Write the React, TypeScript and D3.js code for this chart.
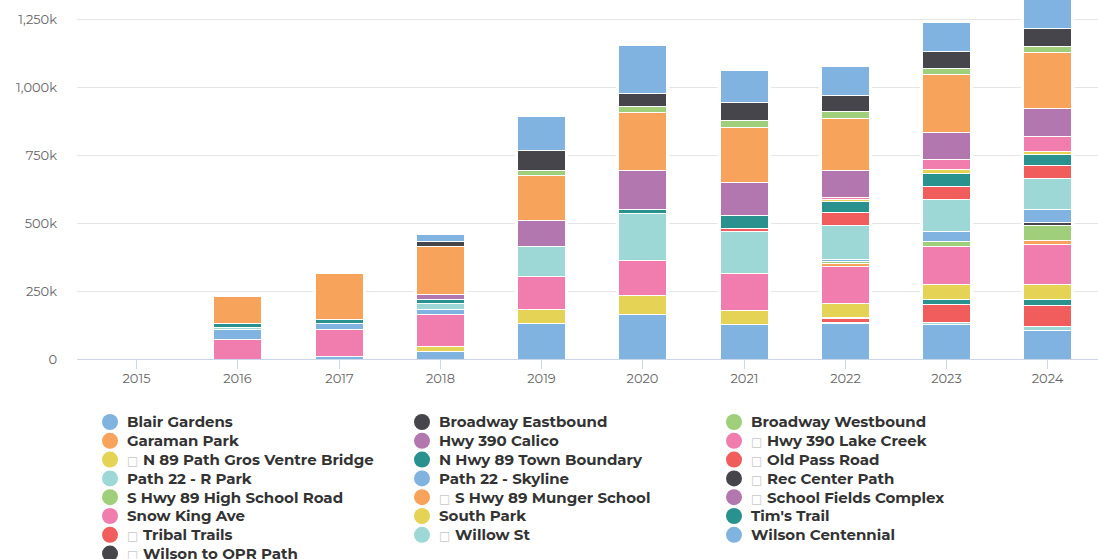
import React from "react";
import * as d3 from "d3";

// years on the x axis
const years = ["2015", "2016", "2017", "2018", "2019", "2020", "2021", "2022", "2023", "2024"];

// counter names, in legend order (first one ends up on top of the stack)
const counters = [
  "Blair Gardens",
  "Broadway Eastbound",
  "Broadway Westbound",
  "Garaman Park",
  "Hwy 390 Calico",
  "Hwy 390 Lake Creek",
  "N 89 Path Gros Ventre Bridge",
  "N Hwy 89 Town Boundary",
  "Old Pass Road",
  "Path 22 - R Park",
  "Path 22 - Skyline",
  "Rec Center Path",
  "S Hwy 89 High School Road",
  "S Hwy 89 Munger School",
  "School Fields Complex",
  "Snow King Ave",
  "South Park",
  "Tim's Trail",
  "Tribal Trails",
  "Willow St",
  "Wilson Centennial",
  "Wilson to OPR Path",
];

// which legend labels carry the missing-glyph box in front
const boxed = [
  "Hwy 390 Lake Creek",
  "N 89 Path Gros Ventre Bridge",
  "Old Pass Road",
  "Rec Center Path",
  "S Hwy 89 Munger School",
  "School Fields Complex",
  "Tribal Trails",
  "Willow St",
  "Wilson to OPR Path",
];

// yearly counts in thousands, 2015..2024
const blairGardens = [0, 0, 0, 26, 125, 177, 119, 107, 106, 114];
const broadwayEast = [0, 0, 0, 16, 75, 48, 65, 61, 65, 65];
const broadwayWest = [0, 0, 0, 0, 17, 24, 28, 26, 23, 22];
const garamanPark = [0, 100, 169, 178, 168, 212, 202, 190, 212, 208];
const hwy390Calico = [0, 0, 0, 17, 95, 145, 121, 100, 97, 102];
const hwy390LakeCreek = [0, 0, 0, 0, 0, 0, 0, 7, 40, 53];
const n89GrosVentre = [0, 0, 0, 0, 0, 0, 0, 6, 15, 11];
const nHwy89Town = [0, 16, 15, 14, 0, 15, 49, 42, 47, 41];
const oldPassRoad = [0, 0, 0, 0, 0, 0, 10, 47, 46, 47];
const path22RPark = [0, 6, 0, 22, 111, 170, 152, 124, 119, 115];
const path22Skyline = [0, 35, 22, 19, 0, 0, 0, 10, 37, 48];
const recCenterPath = [0, 0, 0, 0, 0, 0, 0, 0, 0, 12];
const sHwy89HighSchool = [0, 0, 0, 0, 0, 0, 0, 7, 19, 56];
const sHwy89Munger = [0, 0, 0, 0, 0, 0, 0, 11, 0, 13];
const schoolFields = [0, 0, 0, 0, 0, 0, 0, 0, 0, 0];
const snowKingAve = [0, 75, 101, 120, 119, 130, 139, 134, 138, 147];
const southPark = [0, 0, 0, 15, 52, 69, 51, 52, 55, 55];
const timsTrail = [0, 0, 0, 0, 0, 0, 0, 4, 18, 23];
const tribalTrails = [0, 0, 0, 0, 0, 0, 0, 14, 67, 77];
const willowSt = [0, 0, 0, 0, 0, 0, 0, 4, 6, 13];
const wilsonCentennial = [0, 0, 10, 31, 133, 166, 128, 133, 130, 108];
const wilsonToOpr = [0, 0, 0, 0, 0, 0, 0, 0, 0, 0];

const seriesValues = [
  blairGardens, broadwayEast, broadwayWest, garamanPark, hwy390Calico,
  hwy390LakeCreek, n89GrosVentre, nHwy89Town, oldPassRoad, path22RPark,
  path22Skyline, recCenterPath, sHwy89HighSchool, sHwy89Munger, schoolFields,
  snowKingAve, southPark, timsTrail, tribalTrails, willowSt,
  wilsonCentennial, wilsonToOpr,
];

const yTicks = [0, 250000, 500000, 750000, 1000000, 1250000];

// colours, repeating every 10 series
const colors = [
  "#81b3e1", "#46454b", "#9fcf7a", "#f7a35c", "#b277af",
  "#f17cae", "#e4d354", "#29918e", "#f15c5c", "#9dd8d7",
];

const WIDTH = 1098;
const HEIGHT = 559;

export default function App() {
  const plotLeft = 77;
  const plotRight = 1098;
  const bottom = 359;

  const x = d3.scaleBand().domain(years).range([85.5, 1098]).padding(0);
  const y = d3.scaleLinear().domain([0, 1250000]).range([bottom, 19]);
  const barWidth = 48;

  // table: one row per year
  const table = years.map((yr, i) => {
    const row: Record<string, any> = { year: yr };
    counters.forEach((c, j) => (row[c] = seriesValues[j][i] * 1000));
    return row;
  });

  // d3 stacks the first key at the bottom, so reverse to keep Blair Gardens on top
  const stacked = d3.stack<any>().keys([...counters].reverse())(table);
  const totals = years.map((_, i) => d3.sum(seriesValues, (s) => s[i]) * 1000);

  const fmt = (v: number) => (v === 0 ? "0" : d3.format(",")(v / 1000) + "k");
  const center = (yr: string) => x(yr)! + x.bandwidth() / 2;

  const font = "Montserrat, Inter, 'Open Sans', sans-serif";

  return (
    <svg width={WIDTH} height={HEIGHT} style={{ position: "absolute", left: 0, top: 0, background: "#fff" }}>
      {/* grid */}
      {yTicks.map((t) => (
        <g key={t}>
          {t > 0 && (
            <line x1={plotLeft} x2={plotRight} y1={Math.round(y(t)) + 0.5} y2={Math.round(y(t)) + 0.5} stroke="#e6e6e6" />
          )}
          <text x={57} y={y(t)} dy="0.35em" textAnchor="end" fontFamily={font} fontSize={13} fill="#666">
            {fmt(t)}
          </text>
        </g>
      ))}

      {/* white halo behind each column, the grid stops short of the bars */}
      {years.map((yr, i) =>
        totals[i] > 0 ? (
          <rect
            key={yr}
            x={Math.round(center(yr) - barWidth / 2) - 2}
            y={y(totals[i]) - 1}
            width={barWidth + 5}
            height={bottom - y(totals[i]) + 1}
            fill="#fff"
          />
        ) : null
      )}

      {/* bars */}
      {stacked.map((layer) => {
        const idx = counters.indexOf(layer.key);
        return (
          <g key={layer.key} fill={colors[idx % colors.length]}>
            {layer.map((d, i) => {
              const h = y(d[0]) - y(d[1]);
              if (h <= 0) return null;
              const cx = center(years[i]);
              return (
                <rect
                  key={years[i]}
                  x={Math.round(cx - barWidth / 2) + 0.5}
                  y={Math.round(y(d[1])) + 0.5}
                  width={barWidth}
                  height={Math.max(Math.round(y(d[0])) - Math.round(y(d[1])), 1)}
                  stroke="#fff"
                  strokeWidth={1}
                />
              );
            })}
          </g>
        );
      })}

      {/* x axis */}
      <line x1={plotLeft} x2={plotRight} y1={bottom + 0.5} y2={bottom + 0.5} stroke="#ccd6eb" />
      {years.map((yr) => {
        const cx = Math.round(center(yr)) + 0.5;
        return (
          <g key={yr}>
            <line x1={cx} x2={cx} y1={bottom} y2={bottom + 10} stroke="#ccd6eb" />
            <text x={cx} y={383} textAnchor="middle" fontFamily={font} fontSize={13} fill="#666">
              {yr}
            </text>
          </g>
        );
      })}

      {/* legend, three columns, row major */}
      {counters.map((c, i) => {
        const col = i % 3;
        const row = Math.floor(i / 3);
        const lx = 110 + col * 312;
        const ly = 422 + row * 18.8;
        const hasBox = boxed.includes(c);
        return (
          <g key={c} transform={`translate(${lx},${ly})`}>
            <circle r={8} fill={colors[i % colors.length]} />
            <text x={17} dy="0.36em" fontFamily={font} fontSize={15} fontWeight={700} fill="#333">
              {hasBox && (
                <tspan fill="#c8c8c8" fontWeight={400} fontFamily="'DejaVu Sans'" fontSize={12}>
                  {"\u25A1"}
                </tspan>
              )}
              <tspan x={hasBox ? 33 : 17}>{c}</tspan>
            </text>
          </g>
        );
      })}
    </svg>
  );
}
